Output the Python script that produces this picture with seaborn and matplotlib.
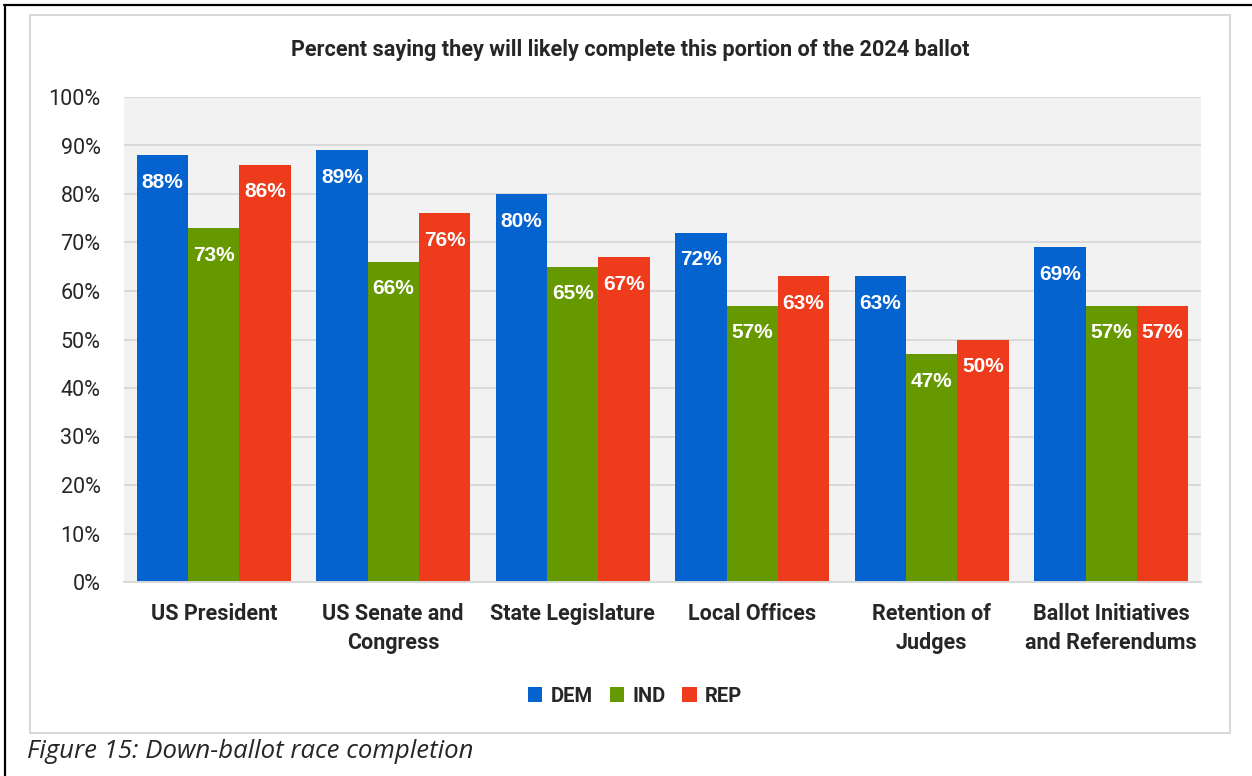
import matplotlib
matplotlib.use("Agg")
import matplotlib.pyplot as plt
from matplotlib.patches import Rectangle, Patch
from matplotlib.lines import Line2D
import seaborn as sns
import pandas as pd

# Survey results: share of each party group likely to complete each ballot section
categories = [
    "US President",
    "US Senate and\nCongress",
    "State Legislature",
    "Local Offices",
    "Retention of\nJudges",
    "Ballot Initiatives\nand Referendums",
]
parties = ["DEM", "IND", "REP"]
dem = [88, 89, 80, 72, 63, 69]
ind = [73, 66, 65, 57, 47, 57]
rep = [86, 76, 67, 63, 50, 57]
yticks = [0, 10, 20, 30, 40, 50, 60, 70, 80, 90, 100]

title = "Percent saying they will likely complete this portion of the 2024 ballot"
caption = "Figure 15: Down-ballot race completion"

colors = {"DEM": "#0563D0", "IND": "#669900", "REP": "#EE3B1C"}

series = {"DEM": dem, "IND": ind, "REP": rep}
df = pd.DataFrame(
    [(c, p, v) for p in parties for c, v in zip(categories, series[p])],
    columns=["category", "party", "value"],
)

sns.set_style("white")
plt.rcParams["font.family"] = ["Roboto", "DejaVu Sans"]

W, H = 1252, 776
fig = plt.figure(figsize=(W / 100, H / 100), dpi=100)
ax = fig.add_axes([124 / W, 1 - 582 / H, (1201 - 124) / W, (582 - 97) / H])
ax.set_facecolor("#F2F2F2")

sns.barplot(
    data=df, x="category", y="value", hue="party",
    order=categories, hue_order=parties, palette=colors,
    width=0.858, saturation=1, legend=False, ax=ax,
    edgecolor="none", linewidth=0,
)

ax.set_xlim(-0.5, len(categories) - 0.5)
ax.set_ylim(0, 100)
ax.set_yticks(yticks)
ax.set_yticklabels([f"{t}%" for t in yticks], fontsize=15.5)
ax.yaxis.grid(True, color="#D9D9D9", linewidth=1.4)
ax.set_axisbelow(True)
ax.set_xlabel("")
ax.set_ylabel("")
for side in ["left", "right", "top"]:
    ax.spines[side].set_visible(False)
ax.spines["bottom"].set_color("#D9D9D9")
ax.spines["bottom"].set_linewidth(1.4)
ax.tick_params(axis="y", length=0, pad=17)
ax.tick_params(axis="x", length=0, pad=15)
ax.set_xticks(range(len(categories)))
ax.set_xticklabels(categories, fontsize=15.5, fontweight="bold", linespacing=1.42)

# Value labels inside the top of each bar
for cont, party in zip(ax.containers, parties):
    for bar, v in zip(cont, series[party]):
        ax.annotate(
            f"{v}%", (bar.get_x() + bar.get_width() / 2, v),
            xytext=(0, -19.5), textcoords="offset points",
            ha="center", va="center", color="white",
            fontsize=15, fontweight="bold",
            family=["Liberation Sans", "DejaVu Sans"],
        )

fig.text(630 / W, 1 - 50 / H, title, ha="center", va="center",
         fontsize=15.6, fontweight="bold")

handles = [Patch(facecolor=colors[p], edgecolor="none", label=p) for p in parties]
leg = fig.legend(
    handles=handles, loc="center", bbox_to_anchor=(635 / W, 1 - 696 / H),
    ncol=3, frameon=False, handlelength=0.72, handleheight=0.72,
    handletextpad=0.4, columnspacing=0.85,
    prop={"size": 14.5, "weight": "bold"},
)

# Chart frame and page border
fig.patches.append(Rectangle((30 / W, 1 - 733 / H), (1230 - 30) / W, (733 - 15) / H,
                             transform=fig.transFigure, fill=False,
                             edgecolor="#D9D9D9", linewidth=1.5))
fig.lines.append(Line2D([4 / W, 1], [1 - 4.5 / H, 1 - 4.5 / H],
                        transform=fig.transFigure, color="black", linewidth=1.6))
fig.lines.append(Line2D([5 / W, 5 / W], [0, 1 - 4.5 / H],
                        transform=fig.transFigure, color="black", linewidth=1.6))

fig.text(27 / W, 1 - 752 / H, caption, ha="left", va="center",
         fontsize=18.5, fontstyle="italic", family=["Open Sans", "DejaVu Sans"])

fig.savefig("out.png", dpi=100)
